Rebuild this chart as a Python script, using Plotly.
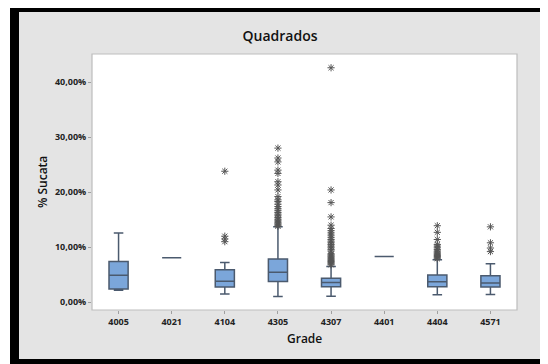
import plotly.graph_objects as go

# ---- data (values in %) ----
grades = ["4005", "4021", "4104", "4305", "4307", "4401", "4404", "4571"]
q1 = [2.4, 8.1, 2.75, 3.76, 2.8, 8.3, 2.8, 2.75]
median = [4.9, 8.1, 3.8, 5.46, 3.57, 8.3, 3.7, 3.5]
q3 = [7.4, 8.1, 5.9, 7.87, 4.35, 8.3, 4.96, 4.8]
lower_whisker = [2.2, 8.1, 1.5, 1.05, 1.1, 8.3, 1.35, 1.4]
upper_whisker = [12.6, 8.1, 7.2, 13.7, 6.5, 8.3, 7.7, 7.0]

outliers_4104 = [11.0, 11.5, 12.0, 23.8]
outliers_4305 = [13.8, 14.0, 14.2, 14.4, 14.6, 14.9, 15.1, 15.4, 15.7, 16.0,
                 16.3, 16.7, 17.0, 17.4, 17.8, 18.3, 18.6, 19.2, 20.4, 21.3,
                 21.9, 23.4, 24.0, 25.5, 26.2, 28.0]
outliers_4307 = [6.8, 7.0, 7.2, 7.4, 7.6, 7.8, 8.0, 8.2, 8.4, 8.6, 8.8, 9.3,
                 9.6, 9.9, 10.2, 10.5, 10.8, 11.1, 11.4, 11.8, 12.2, 12.6,
                 13.0, 13.4, 14.0, 15.5, 18.1, 20.4, 42.6]
outliers_4404 = [7.9, 8.1, 8.3, 8.5, 8.7, 8.9, 9.1, 9.3, 9.6, 9.9, 10.2, 10.5,
                 11.4, 12.7, 13.9]
outliers_4571 = [9.2, 9.85, 10.8, 13.7]

y_ticks = [0, 10, 20, 30, 40]
y_tick_labels = ["0,00%", "10,00%", "20,00%", "30,00%", "40,00%"]

outliers = {
    "4104": outliers_4104,
    "4305": outliers_4305,
    "4307": outliers_4307,
    "4404": outliers_4404,
    "4571": outliers_4571,
}

out_x, out_y = [], []
for g, vals in outliers.items():
    out_x += [g] * len(vals)
    out_y += vals

FONT = "Open Sans"
BOX_FILL = "#7BA6DA"
BOX_LINE = "#4B5A6E"

fig = go.Figure()
fig.add_trace(go.Box(
    x=grades, q1=q1, median=median, q3=q3,
    lowerfence=lower_whisker, upperfence=upper_whisker,
    fillcolor=BOX_FILL, line=dict(color=BOX_LINE, width=1.5),
    width=0.36, boxpoints=False, showlegend=False, hoverinfo="skip",
))
fig.add_trace(go.Scatter(
    x=out_x, y=out_y, mode="markers", showlegend=False,
    marker=dict(symbol="asterisk-open", size=6, color="#555555",
                line=dict(color="#555555", width=1)),
))

# The page body has an 8px default margin; lay out in window pixels.
OFF = 8
W, H = 548 - OFF, 364 - OFF
PL, PR, PT, PB = 92, 517, 54, 310  # plot area in window pixels
L, T = PL - OFF, PT - OFF
R, B = W - (PR - OFF), H - (PB - OFF)
pw, ph = PR - PL, PB - PT


def px_x(px):
    return (px - PL) / pw


def px_y(py):
    return (PB - py) / ph


shapes = [
    dict(type="rect", xref="paper", yref="paper", layer="below",
         x0=px_x(10), x1=px_x(560), y0=px_y(3), y1=px_y(380),
         fillcolor="black", line=dict(width=0)),
    dict(type="rect", xref="paper", yref="paper", layer="below",
         x0=px_x(19), x1=px_x(542), y0=px_y(12), y1=px_y(359),
         fillcolor="#E4E4E4", line=dict(width=0)),
    dict(type="rect", xref="paper", yref="paper", layer="below",
         x0=0, x1=1, y0=0, y1=1,
         fillcolor="white", line=dict(color="#BDBDBD", width=1.2)),
]

fig.update_layout(
    width=W, height=H,
    margin=dict(l=L, r=R, t=T, b=B, pad=0),
    paper_bgcolor="white", plot_bgcolor="white",
    font=dict(family=FONT, color="#222222"),
    title=dict(text="Quadrados", x=(280 - OFF) / W, xref="container",
               xanchor="center", y=1 - (36 - OFF) / H, yref="container",
               yanchor="middle",
               font=dict(family=FONT, size=14, weight=600, color="#111111")),
    shapes=shapes,
    annotations=[
        dict(text="% Sucata", xref="paper", yref="paper", x=px_x(42), y=0.5,
             textangle=-90, showarrow=False, xanchor="center", yanchor="middle",
             font=dict(family=FONT, size=12, weight=600, color="#111111")),
        dict(text="Grade", xref="paper", yref="paper", x=0.5, y=px_y(338),
             showarrow=False, xanchor="center", yanchor="middle",
             font=dict(family=FONT, size=12, weight=600, color="#111111")),
    ],
)
fig.update_xaxes(
    type="category", range=[-0.5, 7.5], showgrid=False, zeroline=False,
    showline=False, ticks="outside", ticklen=3, tickcolor="#A0A0A0",
    tickfont=dict(family=FONT, size=9, weight="bold", color="#222222"),
)
fig.update_yaxes(
    range=[-1.41, 45.1], tickvals=y_ticks, ticktext=y_tick_labels,
    showgrid=False, zeroline=False, showline=False,
    ticks="outside", ticklen=3, tickcolor="#A0A0A0",
    tickfont=dict(family=FONT, size=9, weight="bold", color="#222222"),
)

fig.write_html("out.html")
